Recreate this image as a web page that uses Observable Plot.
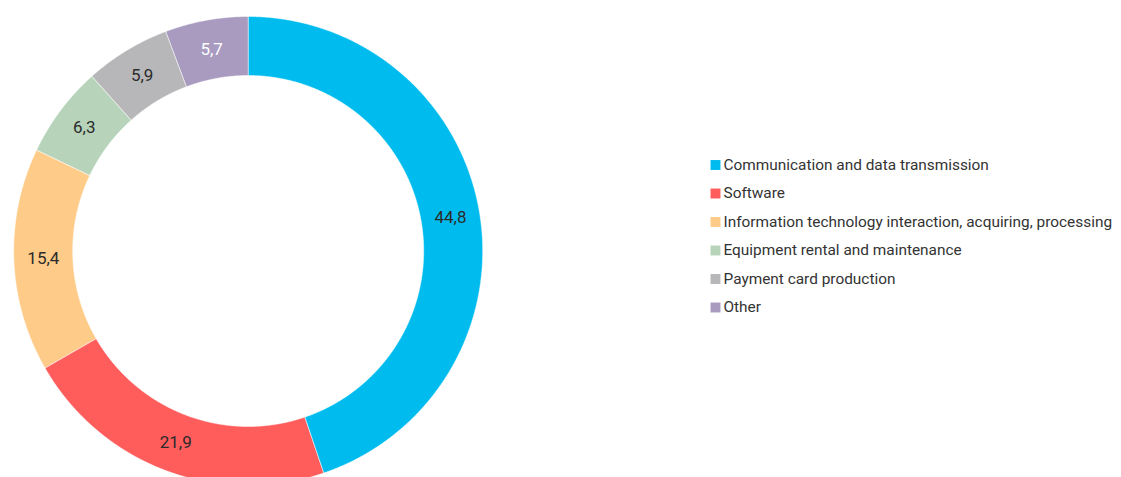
<!DOCTYPE html>
<html>
<head>
<meta charset="utf-8">
<script src="https://cdn.jsdelivr.net/npm/d3@7"></script>
<script src="https://cdn.jsdelivr.net/npm/@observablehq/plot@0.6"></script>
<style>
  html, body { margin: 0; padding: 0; background: #fff; }
  #chart svg { display: block; }
</style>
</head>
<body>
<div id="chart"></div>
<script>
// ---- data ----
const categories = [
  "Communication and data transmission",
  "Software",
  "Information technology interaction, acquiring, processing",
  "Equipment rental and maintenance",
  "Payment card production",
  "Other"
];
const values = [44.8, 21.9, 15.4, 6.3, 5.9, 5.7];
const valueLabels = ["44,8", "21,9", "15,4", "6,3", "5,9", "5,7"];
const colors = ["#00bcee", "#ff5c5c", "#fecb88", "#b7d4ba", "#b7b7b9", "#a89bbf"];
const labelColors = ["#2b2b2b", "#2b2b2b", "#2b2b2b", "#2b2b2b", "#2b2b2b", "#ffffff"];

// ---- layout ----
const W = 1121, H = 477;
const cx = 247.7, cy = 250.5;    // donut centre in pixels
const R = 234.5, r = 175.5;      // outer / inner radius
const font = "Roboto, 'Open Sans', sans-serif";

const rows = categories.map((c, i) => ({cat: c, value: values[i], label: valueLabels[i], lc: labelColors[i], i}));
const arcs = d3.pie().sort(null).value(d => d.value)(rows);

// ring polygons derived from the pie angles
const ring = [];
for (const a of arcs) {
  const n = Math.max(4, Math.ceil((a.endAngle - a.startAngle) / 0.005));
  for (let k = 0; k <= n; k++) {
    const t = a.startAngle + (a.endAngle - a.startAngle) * k / n;
    ring.push({cat: a.data.cat, x: R * Math.sin(t), y: R * Math.cos(t)});
  }
  for (let k = n; k >= 0; k--) {
    const t = a.startAngle + (a.endAngle - a.startAngle) * k / n;
    ring.push({cat: a.data.cat, x: r * Math.sin(t), y: r * Math.cos(t)});
  }
}
const labelPts = arcs.map(a => {
  const t = (a.startAngle + a.endAngle) / 2, m = (R + r) / 2;
  return {...a.data, x: m * Math.sin(t), y: m * Math.cos(t)};
});

// legend rows
const legX = 715 - cx, legTextX = 723 - cx, legY0 = 164.5, legStep = 28.5;
const legend = rows.map(d => ({...d, x: legX, tx: legTextX, y: cy - (legY0 + d.i * legStep)}));

const chart = Plot.plot({
  width: W, height: H,
  margin: 0,
  x: {domain: [-cx, W - cx], axis: null},
  y: {domain: [cy - H, cy], axis: null},
  color: {domain: categories, range: colors},
  style: {fontFamily: font, background: "#fff"},
  marks: [
    Plot.line(ring, {x: "x", y: "y", z: "cat", fill: "cat", stroke: "#fff", strokeWidth: 0.5, curve: "linear-closed"}),
    Plot.text(labelPts, {x: "x", y: "y", text: "label", fill: "lc", fontSize: 17, fontFamily: font}),
    Plot.dot(legend, {x: "x", y: "y", fill: "cat", symbol: "square", r: 5.6, stroke: null}),
    Plot.text(legend, {x: "tx", y: "y", text: "cat", textAnchor: "start", fill: "#333", fontSize: 15.4, fontFamily: font})
  ]
});
document.getElementById("chart").appendChild(chart);
</script>
</body>
</html>
